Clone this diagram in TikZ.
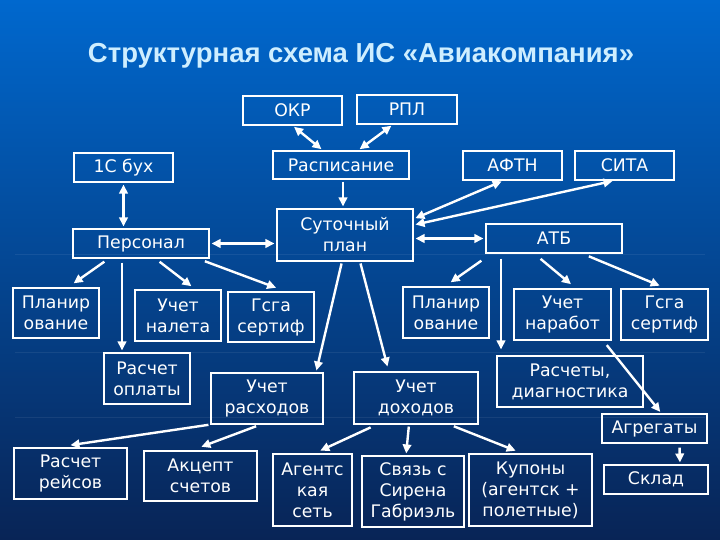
\documentclass[tikz,border=0pt]{standalone}
\usepackage{fontspec}
\setmainfont{DejaVu Sans}
\newfontfamily\titlefont{Liberation Sans}
\usetikzlibrary{arrows.meta}

\definecolor{bgtop}{RGB}{0,104,206}
\definecolor{bgmid}{RGB}{4,66,150}
\definecolor{bgbot}{RGB}{8,36,86}
\definecolor{titlecol}{RGB}{206,238,255}

\begin{document}
\begin{tikzpicture}[x=1pt,y=1pt]
    \tikzstyle{box}=[draw=white, line width=1.1pt, text=white, align=center, inner sep=0pt,
      font=\fontsize{17.3}{21}\selectfont]
    \tikzstyle{arr}=[white, line width=2.4pt, -{Triangle[length=9pt,width=8.5pt]}, shorten <=2pt, shorten >=2pt]
    \tikzstyle{dbl}=[arr, {Triangle[length=9pt,width=8.5pt]}-{Triangle[length=9pt,width=8.5pt]}]
    \tikzstyle{grid}=[white, opacity=0.07, line width=1pt]
    \shade[top color=bgtop, middle color=bgmid, bottom color=bgbot] (0,0) rectangle (720,540);
    \useasboundingbox (0,0) rectangle (720,540);
    \draw[grid] (15,285) -- (705,285);
    \draw[grid] (15,187) -- (705,187);
    \draw[grid] (15,122) -- (705,122);

    \node[text=titlecol, anchor=base, font=\titlefont\bfseries\fontsize{27.5}{32}\selectfont] (title) at (361,477)
      {Структурная схема ИС «Авиакомпания»};

    \node[box, minimum width=99pt, minimum height=29pt] (okr) at (292.5,429.5) {ОКР};
    \node[box, minimum width=100pt, minimum height=29pt] (rpl) at (407,430.5) {РПЛ};
    \node[box, minimum width=136pt, minimum height=28pt] (rasp) at (341,375) {Расписание};
    \node[box, minimum width=99pt, minimum height=29pt] (buh) at (123.5,372.5) {1С бух};
    \node[box, minimum width=99pt, minimum height=29pt] (aftn) at (512.5,374.5) {АФТН};
    \node[box, minimum width=99pt, minimum height=29pt] (sita) at (624.5,374.5) {СИТА};
    \node[box, minimum width=136pt, minimum height=52pt] (sut) at (345,305) {Суточный\\план};
    \node[box, minimum width=136pt, minimum height=29pt] (pers) at (141,296.5) {Персонал};
    \node[box, minimum width=136pt, minimum height=29pt] (atb) at (554,301.5) {АТБ};

    \node[box, minimum width=86pt, minimum height=50pt] (plan1) at (56,227) {Планир\\ование};
    \node[box, minimum width=86pt, minimum height=51pt] (nalet) at (178,224.5) {Учет\\налета};
    \node[box, minimum width=86pt, minimum height=50pt] (gsga1) at (271,223) {Гсга\\сертиф};
    \node[box, minimum width=86pt, minimum height=51pt] (plan2) at (446,227.5) {Планир\\ование};
    \node[box, minimum width=97pt, minimum height=51pt] (narab) at (562.5,225.5) {Учет\\наработ};
    \node[box, minimum width=87pt, minimum height=51pt] (gsga2) at (664.5,225.5) {Гсга\\сертиф};

    \node[box, minimum width=86pt, minimum height=51pt] (oplat) at (147,161.5) {Расчет\\оплаты};
    \node[box, minimum width=112pt, minimum height=51pt] (rash) at (267,141.5) {Учет\\расходов};
    \node[box, minimum width=124pt, minimum height=52pt] (dohod) at (416,142) {Учет\\доходов};
    \node[box, minimum width=146pt, minimum height=51pt] (diag) at (570,158.5) {Расчеты,\\диагностика};
    \node[box, minimum width=105pt, minimum height=29pt] (agreg) at (654.5,111.5) {Агрегаты};

    \node[box, minimum width=113pt, minimum height=51pt] (reis) at (70.5,66.5) {Расчет\\рейсов};
    \node[box, minimum width=113pt, minimum height=50pt] (akcept) at (200.5,64) {Акцепт\\счетов};
    \node[box, minimum width=79pt, minimum height=72pt] (agent) at (312.5,50) {Агентс\\кая\\сеть};
    \node[box, minimum width=102pt, minimum height=71pt] (svyaz) at (413,48.5) {Связь с\\Сирена\\Габриэль};
    \node[box, minimum width=123pt, minimum height=72pt] (kupon) at (530.5,50) {Купоны\\(агентск +\\полетные)};
    \node[box, minimum width=104pt, minimum height=29pt] (sklad) at (656,60.5) {Склад};

    \draw[dbl] (okr.south) -- ([xshift=-18pt]rasp.north);
    \draw[dbl] ([xshift=-14pt]rpl.south) -- ([xshift=17pt]rasp.north);
    \draw[arr] ([xshift=2pt]rasp.south) -- ([xshift=-2pt]sut.north);
    \draw[dbl] (buh.south) -- (buh.south |- pers.north);
    \draw[dbl] (pers.east) -- (pers.east -| sut.west);
    \draw[dbl] ([yshift=16pt]sut.east) -- ([xshift=-9pt]aftn.south);
    \draw[dbl] ([yshift=10pt]sut.east) -- ([xshift=-10pt]sita.south);
    \draw[dbl] (sut.east |- atb.west) -- (atb.west);

    \draw[arr] ([xshift=-35pt,yshift=-2pt]pers.south) -- ([xshift=16pt,yshift=3pt]plan1.north);
    \draw[arr] ([xshift=17pt,yshift=-2pt]pers.south) -- ([xshift=15pt,yshift=2pt]nalet.north);
    \draw[arr] ([xshift=62pt,yshift=-2pt]pers.south) -- ([xshift=7pt,yshift=3pt]gsga1.north);
    \draw[arr] ([xshift=-19pt,yshift=-2pt]pers.south) -- ([xshift=-25pt]oplat.north);

    \draw[arr] ([xshift=-3pt]sut.south) -- ([xshift=49pt]rash.north);
    \draw[arr] ([xshift=15pt]sut.south) -- ([xshift=-28pt,yshift=3pt]dohod.north);

    \draw[arr] ([xshift=-71pt,yshift=-6pt]atb.south) -- ([xshift=3pt,yshift=3pt]plan2.north);
    \draw[arr] ([xshift=-15pt,yshift=-4pt]atb.south) -- ([xshift=10pt,yshift=3pt]narab.north);
    \draw[arr] ([xshift=33pt,yshift=-2pt]atb.south) -- ([xshift=-3pt,yshift=2pt]gsga2.north);
    \draw[arr] ([xshift=-53pt,yshift=-3pt]atb.south) -- ([xshift=-69pt,yshift=4pt]diag.north);
    \draw[arr] ([xshift=43pt,yshift=-3pt]narab.south) -- ([xshift=7pt]agreg.north);
    \draw[arr] ([xshift=25pt,yshift=-2pt]agreg.south) -- ([xshift=24pt]sklad.north);

    \draw[arr] (rash.south west) -- ([xshift=-2pt,yshift=2pt]reis.north);
    \draw[arr] ([xshift=-9pt,yshift=-1pt]rash.south) -- ([xshift=-1pt,yshift=3pt]akcept.north);
    \draw[arr] ([xshift=19pt,yshift=-2pt]dohod.south west) -- ([xshift=6pt,yshift=2pt]agent.north);
    \draw[arr] ([xshift=-7pt]dohod.south) -- ([xshift=-7pt]svyaz.north);
    \draw[arr] ([xshift=36pt,yshift=-1pt]dohod.south) -- ([xshift=-13pt,yshift=2pt]kupon.north);
\end{tikzpicture}
\end{document}
